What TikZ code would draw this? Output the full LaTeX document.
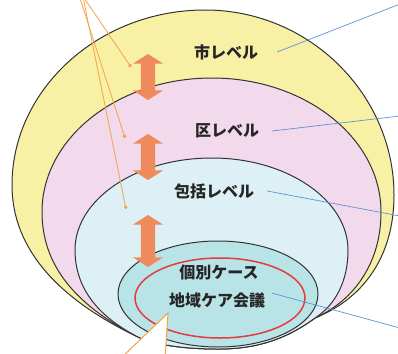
\documentclass[tikz,border=0pt]{standalone}
\usepackage{fontspec}
\newfontfamily\jp{Noto Sans CJK JP}[BoldFont={Noto Sans CJK JP Black}]
\usepackage{tikz}
\usetikzlibrary{shapes.geometric, shapes.arrows, arrows.meta, positioning}
\definecolor{shiyellow}{HTML}{F7F0A5}
\definecolor{kupink}{HTML}{F2D9EC}
\definecolor{hokatsublue}{HTML}{DDF0F5}
\definecolor{kobetsucyan}{HTML}{B9E4E7}
\definecolor{arroworange}{HTML}{EF8A5C}
\definecolor{pointerorange}{HTML}{F4A346}
\definecolor{leaderblue}{HTML}{5B93D6}
\definecolor{ringred}{HTML}{E23B3F}
\tikzstyle{lvl}=[draw=black!80, line width=1pt]
\tikzstyle{core}=[draw=black!80, line width=1pt, ellipse, inner sep=0pt]
\tikzstyle{ring}=[draw=ringred, line width=1.5pt, ellipse, inner sep=0pt]
\tikzstyle{lvltext}=[text=black!85, inner sep=1pt]
\tikzstyle{bigarrow}=[double arrow, fill=arroworange, rotate=90, inner sep=7pt, double arrow head extend=8pt, double arrow tip angle=115]
\tikzstyle{leader}=[draw=leaderblue, line width=0.7pt]
\tikzstyle{pointer}=[draw=pointerorange, line width=0.8pt, -{Circle[length=3.5pt]}]
% shared bottom of the nested levels
\newcommand{\lvlbottom}{.. controls (285,340) and (255,349) .. (218,349) .. controls (185,349) and (155,345) .. (138,337)}

\begin{document}
\begin{tikzpicture}[x=1pt,y=-1pt,font=\jp\bfseries\fontsize{16}{19}\selectfont]
    \useasboundingbox (0,0) rectangle (398,353);

    % nested levels, all resting on the same bottom
    \draw[lvl, fill=shiyellow] (138,337) .. controls (60,300) and (12,250) .. (12,185)
        .. controls (12,90) and (98,10) .. (205,10)
        .. controls (310,10) and (394,95) .. (394,195)
        .. controls (394,260) and (360,300) .. (315,318) \lvlbottom -- cycle;
    \draw[lvl, fill=kupink] (138,337) .. controls (75,305) and (42,265) .. (42,212)
        .. controls (42,138) and (118,78) .. (212,78)
        .. controls (305,78) and (381,138) .. (381,212)
        .. controls (381,262) and (355,300) .. (315,318) \lvlbottom -- cycle;
    \draw[lvl, fill=hokatsublue] (138,337) .. controls (115,325) and (75,300) .. (75,250)
        .. controls (75,200) and (135,158) .. (212,158)
        .. controls (287,158) and (348,200) .. (348,250)
        .. controls (348,282) and (335,305) .. (315,318) \lvlbottom -- cycle;
    \node[core, fill=kobetsucyan, minimum width=200pt, minimum height=106pt] (kob) at (218,294) {};
    \node[ring, minimum width=170pt, minimum height=80pt] (ring) at (220,298) {};

    \node[lvltext] (t1) at (226,52) {市レベル};
    \node[lvltext] (t2) at (227,131) {区レベル};
    \node[lvltext] (t3) at (214,191) {包括レベル};
    \node[lvltext] (t4) at (219,272) {個別ケース};
    \node[lvltext] (t5) at (217,300) {地域ケア会議};

    \node[bigarrow, minimum height=46pt] (a1) at (148,77) {};
    \node[bigarrow, minimum height=46pt] (a2) at (148,157) {};
    \node[bigarrow, minimum height=52pt] (a3) at (148,241) {};

    % leaders to the right margin
    \coordinate (e1) at (400,4);
    \coordinate (e2) at (400,116);
    \coordinate (e3) at (400,216);
    \coordinate (e4) at (400,328);
    \draw[leader] ([xshift=18pt]t1.east) -- (e1);
    \draw[leader] ([xshift=12pt]t2.east) -- (e2);
    \draw[leader] ([xshift=12pt]t3.east) -- (e3);
    \draw[leader] ([xshift=6pt,yshift=-2pt]t5.north east) -- (e4);

    % pointers from the top
    \coordinate (src) at (80,-8);
    \coordinate (p1) at (131,67);
    \coordinate (p2) at (125,138);
    \coordinate (p3) at (126,209);
    \draw[pointer] (src) -- (p1);
    \draw[pointer] ([xshift=-2pt]src) -- (p2);
    \draw[pointer] ([xshift=2pt]src) -- (p3);

    % callout at the bottom
    \coordinate (wtip) at (168,313);
    \coordinate (wl) at (121,358);
    \coordinate (wr) at (165,358);
    \fill[white] (wl) -- (wtip) -- (wr) -- cycle;
    \draw[pointerorange, line width=1pt] (wl) -- (wtip) -- (wr);
\end{tikzpicture}
\end{document}
